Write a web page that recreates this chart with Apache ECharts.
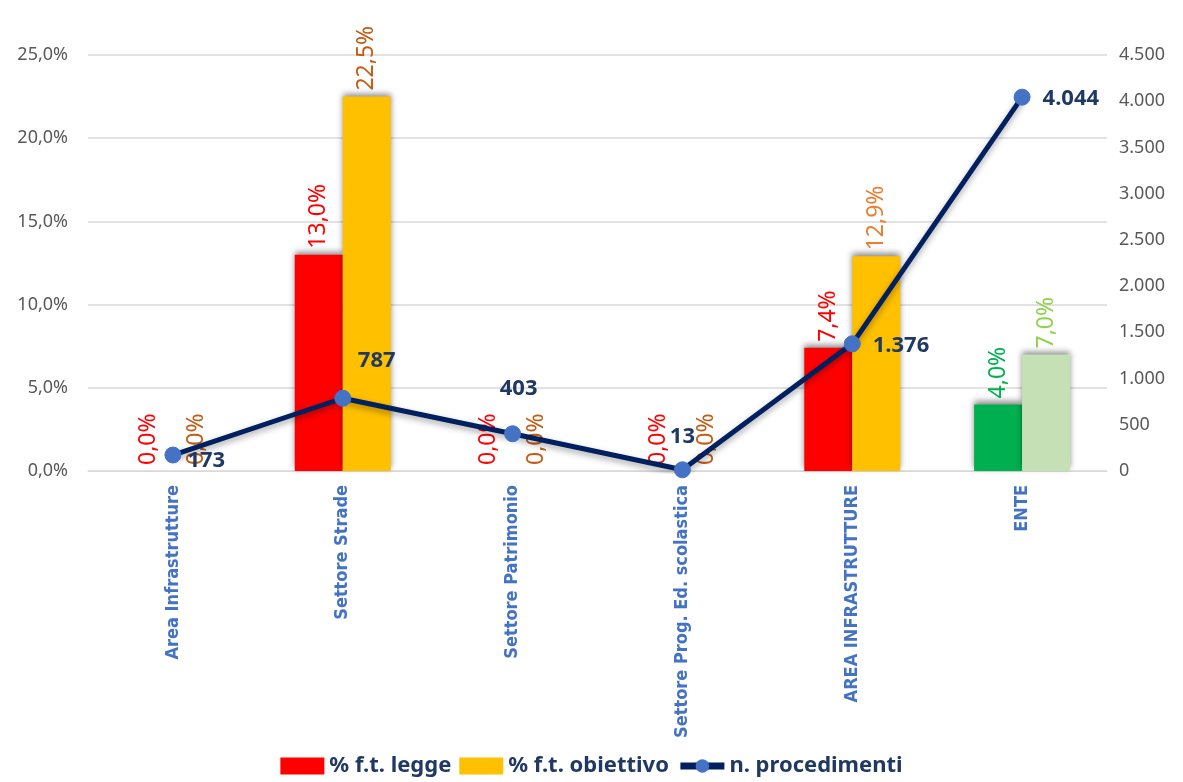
<!DOCTYPE html>
<html><head><meta charset="utf-8">
<script src="https://cdn.jsdelivr.net/npm/echarts@6/dist/echarts.min.js"></script>
<style>html,body{margin:0;padding:0;background:#fff}#c{width:1183px;height:782px}</style>
</head><body><div id="c"></div>
<script>
var categories = ['Area Infrastrutture','Settore Strade','Settore Patrimonio','Settore Prog. Ed. scolastica','AREA INFRASTRUTTURE','ENTE'];
var legge = [0, 13.0, 0, 0, 7.4, 4.0];
var obiettivo = [0, 22.5, 0, 0, 12.9, 7.0];
var procedimenti = [173, 787, 403, 13, 1376, 4044];
var leftTicks = [0, 25, 5];
var rightTicks = [0, 4500, 500];

var FONT = '"Noto Sans", "Open Sans", sans-serif';
function pct(v){ return v.toFixed(1).replace('.', ',') + '%'; }
function thou(v){ return String(v).replace(/\B(?=(\d{3})+(?!\d))/g, '.'); }

var leggeColors = ['#FF0000','#FF0000','#FF0000','#FF0000','#FF0000','#00B050'];
var leggeLabelColors = ['#FF0000','#FF0000','#FF0000','#FF0000','#FF0000','#00B050'];
var obColors = ['#FFC000','#FFC000','#FFC000','#FFC000','#FFC000','#C5E0B4'];
var obLabelColors = ['#C55A11','#C55A11','#C55A11','#C55A11','#ED7D31','#92D050'];
var linePos = [
  {position:'right', distance:6, offset:[0,6]},
  {position:'top', distance:10, offset:[34,-8]},
  {position:'top', distance:24, offset:[6,-2]},
  {position:'top', distance:14, offset:[0,0]},
  {position:'right', distance:12, offset:[0,2]},
  {position:'right', distance:12, offset:[0,2]}
];

var barShadow = {shadowColor:'rgba(0,0,0,0.45)', shadowBlur:6, shadowOffsetY:-3};

var option = {
  animation:false,
  grid:{left:88, right:76, top:55, bottom:311},
  legend:{
    bottom:0, left:'center', itemWidth:44, itemHeight:17, itemGap:8,
    textStyle:{color:'#1F3864', fontSize:22, fontWeight:'bold', fontFamily:FONT},
    data:[{name:'% f.t. legge', icon:'rect'},{name:'% f.t. obiettivo', icon:'rect'},
      {name:'n. procedimenti', lineStyle:{width:7, color:'#002060'}, itemStyle:{color:'#4472C4'}}]
  },
  xAxis:{
    type:'category', data:categories,
    axisLine:{lineStyle:{color:'#D9D9D9', width:1}}, axisTick:{show:false},
    axisLabel:{rotate:90, color:'#4472C4', fontSize:18, fontWeight:'bold', fontFamily:'"Liberation Sans Narrow", "DejaVu Sans Condensed", sans-serif', margin:14}
  },
  yAxis:[
    {type:'value', min:leftTicks[0], max:leftTicks[1], interval:leftTicks[2],
     axisLine:{show:false}, axisTick:{show:false},
     splitLine:{lineStyle:{color:'#D9D9D9', width:1.5}},
     axisLabel:{formatter:function(v){return pct(v);}, color:'#595959', fontSize:18, fontFamily:FONT, margin:20}},
    {type:'value', min:rightTicks[0], max:rightTicks[1], interval:rightTicks[2],
     axisLine:{show:false}, axisTick:{show:false}, splitLine:{show:false},
     axisLabel:{formatter:function(v){return thou(v);}, color:'#595959', fontSize:18, fontFamily:FONT, margin:12}}
  ],
  series:[
    {name:'% f.t. legge', type:'bar', yAxisIndex:0, barWidth:48, barGap:'0%',
     itemStyle:Object.assign({color:'#FF0000'}, barShadow),
     data:legge.map(function(v,i){return {value:v, itemStyle:{color:leggeColors[i]}, label:{color:leggeLabelColors[i]}};}),
     label:{show:true, position:'top', rotate:90, align:'left', verticalAlign:'middle', distance:6,
       fontSize:23, fontFamily:FONT, formatter:function(p){return pct(p.value);}}},
    {name:'% f.t. obiettivo', type:'bar', yAxisIndex:0, barWidth:48, barGap:'0%',
     itemStyle:Object.assign({color:'#FFC000'}, barShadow),
     data:obiettivo.map(function(v,i){return {value:v, itemStyle:{color:obColors[i]}, label:{color:obLabelColors[i]}};}),
     label:{show:true, position:'top', rotate:90, align:'left', verticalAlign:'middle', distance:6,
       fontSize:23, fontFamily:FONT, formatter:function(p){return pct(p.value);}}},
    {name:'n. procedimenti', type:'line', yAxisIndex:1, symbol:'circle', symbolSize:16, z:5,
     lineStyle:{color:'#002060', width:5, shadowColor:'rgba(0,0,0,0.35)', shadowBlur:6, shadowOffsetY:3},
     itemStyle:{color:'#4472C4', borderColor:'#4472C4'},
     data:procedimenti.map(function(v,i){return {value:v, label:linePos[i]};}),
     label:{show:true, color:'#1F3864', fontSize:22, fontWeight:'bold', fontFamily:FONT,
       formatter:function(p){return thou(p.value);}}}
  ]
};
var chart = echarts.init(document.getElementById('c'));
chart.setOption(option);
</script></body></html>
